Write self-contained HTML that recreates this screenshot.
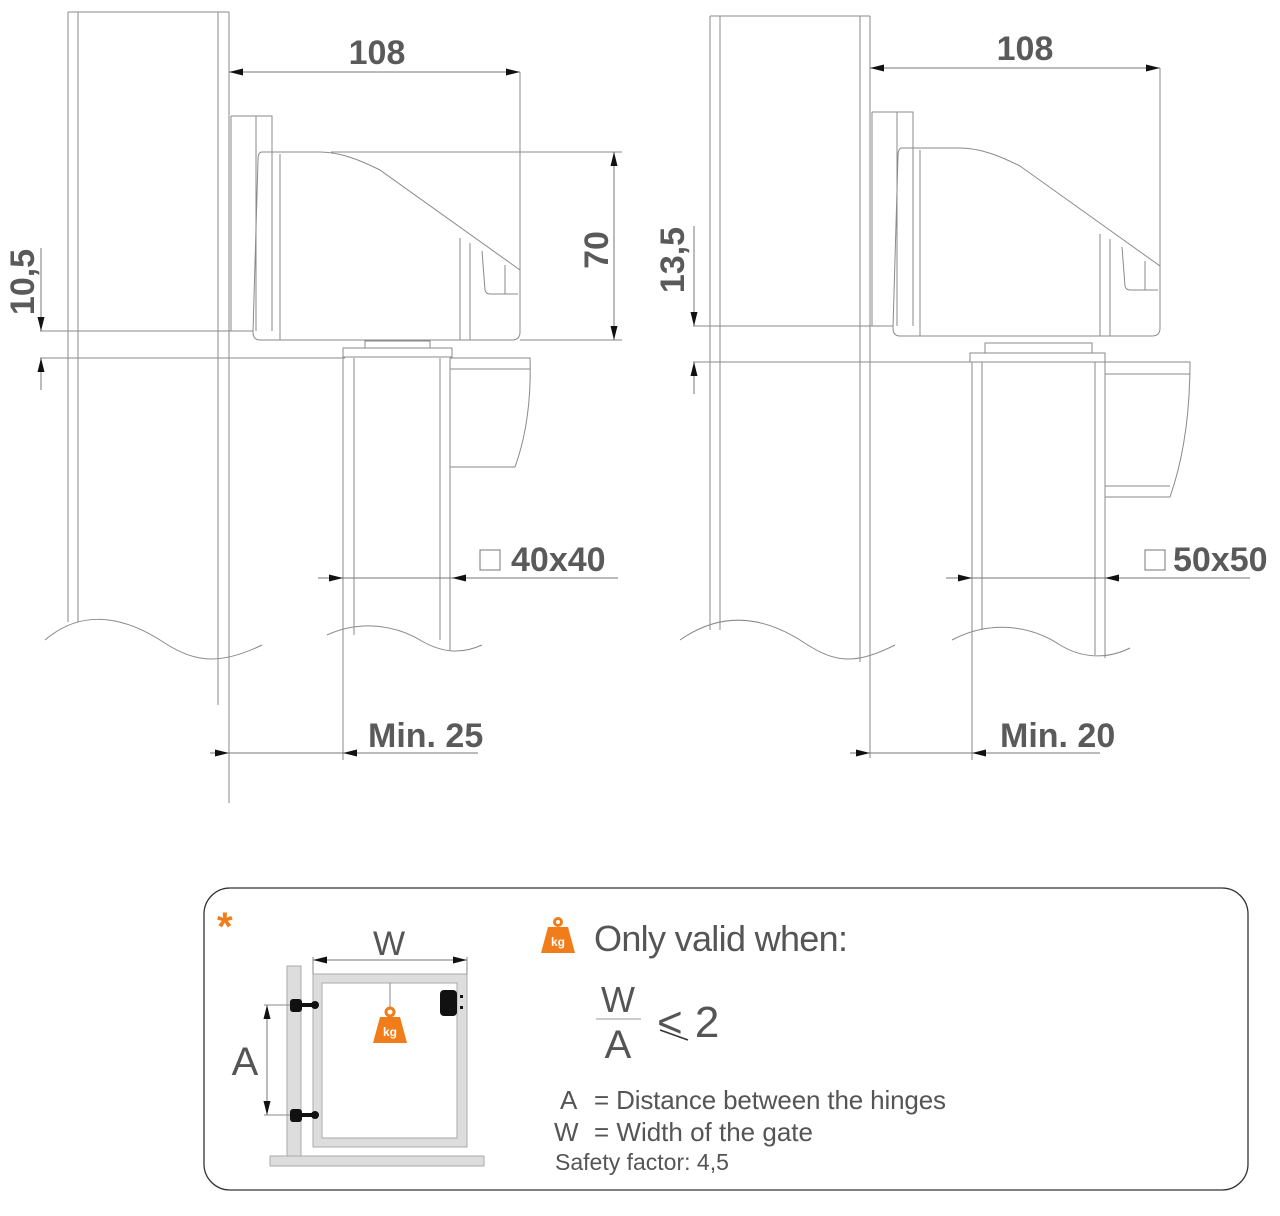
<!DOCTYPE html>
<html><head><meta charset="utf-8"><style>
html,body{margin:0;padding:0;background:#fff}
svg{display:block}
.l{stroke:#8a8a8a;stroke-width:1;fill:none}
.d{stroke:#777;stroke-width:1;fill:none}
.t{font-family:"Liberation Sans",sans-serif;font-weight:bold;fill:#5a5a5a}
.n{font-family:"Liberation Sans",sans-serif;fill:#555}
</style></head><body>
<svg width="1280" height="1216" viewBox="0 0 1280 1216" xmlns="http://www.w3.org/2000/svg">
<defs>
<marker id="a" viewBox="0 0 14 8" refX="14" refY="4" markerWidth="14" markerHeight="8" orient="auto-start-reverse" markerUnits="userSpaceOnUse"><path d="M0,0.5 L14,4 L0,7.5z" fill="#111"/></marker>
</defs>

<!-- LEFT DIAGRAM -->
<g>
<path class="l" d="M68,12 V622 M78,12 V622 M218,12 V705 M229,12 V803 M68,12 H229"/>
<path class="l" d="M45,640 C80,610 120,615 160,640 C190,660 215,668 262,645"/>
<path class="l" d="M40,331 H253 M40,358 H345"/>
<path class="l" d="M231,116 H272 V331 M231,116 V331 M256,116 V331"/>
<path class="l" d="M262,152 H320 C340,152 360,160 380,170 L520,270 V332 Q520,340 512,340 H260 Q253,340 253,332 L258,160 Q258,152 262,152Z"/>
<path class="l" d="M280,154 V340 M460,238 V340 M470,243 V340 M482,251 L485,290 Q486,294 490,294 H518 M505,265 V294"/>
<path class="l" d="M331,152 H622 M520,340 H622 M520,72 V300"/>
<path class="d" d="M229,72 H520" marker-start="url(#a)" marker-end="url(#a)"/>
<path class="d" d="M614,152 V340" marker-start="url(#a)" marker-end="url(#a)"/>
<text class="t" x="377" y="64" font-size="34" text-anchor="middle">108</text>
<text class="t" transform="translate(608,250) rotate(-90)" font-size="34" text-anchor="middle">70</text>
<text class="t" transform="translate(34,282) rotate(-90)" font-size="34" text-anchor="middle">10,5</text>
<path class="d" d="M41,248 V331" marker-end="url(#a)"/>
<path class="d" d="M41,390 V358" marker-end="url(#a)"/>
<path class="l" d="M343,348 H452 V357 H343Z M365,341 H430 V348 H365Z"/>
<path class="l" d="M343,358 V760 M354,358 V635 M440,358 V640 M450,358 V650"/>
<path class="l" d="M327,635 C360,620 395,625 420,640 C440,652 460,655 482,645"/>
<path class="l" d="M450,358 H530 Q532,420 515,467 H450 M450,369 H530"/>
<path class="d" d="M318,578 H343" marker-end="url(#a)"/>
<path class="d" d="M618,578 H452" marker-end="url(#a)"/>
<path class="d" d="M343,578 H452"/>
<rect x="480" y="550" width="20" height="20" fill="none" stroke="#777"/>
<text class="t" x="511" y="571" font-size="34">40x40</text>
<path class="d" d="M210,753 H229" marker-end="url(#a)"/>
<path class="d" d="M478,753 H343" marker-end="url(#a)"/>
<path class="d" d="M229,753 H343"/>
<text class="t" x="368" y="747" font-size="34">Min. 25</text>
</g>

<!-- RIGHT DIAGRAM -->
<g>
<path class="l" d="M710,16 V630 M720,16 V630 M860,16 V662 M870,16 V758 M710,16 H870"/>
<path class="l" d="M680,640 C720,612 760,615 800,640 C830,660 850,668 895,645"/>
<path class="l" d="M693,326 H893 M693,362 H972"/>
<path class="l" d="M872,112 H913 V326 M872,112 V326 M897,112 V326"/>
<path class="l" d="M902,148 H960 C980,148 1000,156 1020,166 L1160,266 V328 Q1160,336 1152,336 H900 Q893,336 893,328 L898,156 Q898,148 902,148Z"/>
<path class="l" d="M920,150 V336 M1100,234 V336 M1110,239 V336 M1122,247 L1125,286 Q1126,290 1130,290 H1158 M1145,261 V290"/>
<path class="l" d="M1160,68 V300"/>
<path class="d" d="M870,68 H1160" marker-start="url(#a)" marker-end="url(#a)"/>
<text class="t" x="1025" y="60" font-size="34" text-anchor="middle">108</text>
<text class="t" transform="translate(684,260) rotate(-90)" font-size="34" text-anchor="middle">13,5</text>
<path class="d" d="M694,226 V326" marker-end="url(#a)"/>
<path class="d" d="M694,394 V362" marker-end="url(#a)"/>
<path class="l" d="M985,343 H1092 V353 H985Z M970,353 H1105 V362 H970Z"/>
<path class="l" d="M972,362 V760 M982,362 V630 M1095,362 V655 M1105,362 V658"/>
<path class="l" d="M952,640 C990,620 1030,625 1060,645 C1085,660 1110,658 1130,648"/>
<path class="l" d="M1105,362 H1190 Q1190,440 1170,497 H1105 M1105,374 H1190 M1105,486 H1170"/>
<path class="d" d="M946,578 H972" marker-end="url(#a)"/>
<path class="d" d="M1250,578 H1105" marker-end="url(#a)"/>
<path class="d" d="M972,578 H1105"/>
<rect x="1145" y="550" width="20" height="20" fill="none" stroke="#777"/>
<text class="t" x="1173" y="571" font-size="34">50x50</text>
<path class="d" d="M850,753 H870" marker-end="url(#a)"/>
<path class="d" d="M1100,753 H972" marker-end="url(#a)"/>
<path class="d" d="M870,753 H972"/>
<text class="t" x="1000" y="747" font-size="34">Min. 20</text>
</g>

<!-- BOTTOM BOX -->
<rect x="204" y="888" width="1044" height="302" rx="26" fill="none" stroke="#333" stroke-width="1.3"/>
<text x="217" y="940" font-family="Liberation Sans,sans-serif" font-weight="bold" font-size="40" fill="#f07d1a">*</text>
<rect x="287" y="966" width="14" height="190" fill="#ddd" stroke="#aaa"/>
<rect x="270" y="1156" width="214" height="10" fill="#ddd" stroke="#aaa"/>
<path d="M313,974 H467 V1147 H313Z M322,983 V1138 H457 V983Z" fill="#ddd" fill-rule="evenodd" stroke="#aaa"/>
<path class="d" d="M313,960 H467" marker-start="url(#a)" marker-end="url(#a)"/>
<path class="l" d="M313,957 V974 M467,957 V974"/>
<text class="n" x="389" y="955" font-size="34" text-anchor="middle">W</text>
<path class="d" d="M267,1005 V1115" marker-start="url(#a)" marker-end="url(#a)"/>
<path class="l" d="M264,1005 H295 M264,1115 H295"/>
<text class="n" x="245" y="1075" font-size="40" text-anchor="middle">A</text>
<g fill="#111">
<rect x="290" y="999" width="12" height="13" rx="3"/><rect x="300" y="1003" width="16" height="4"/><circle cx="315" cy="1005" r="4"/>
<rect x="290" y="1109" width="12" height="13" rx="3"/><rect x="300" y="1113" width="16" height="4"/><circle cx="315" cy="1115" r="4"/>
<rect x="440" y="990" width="17" height="26" rx="4"/>
<rect x="460" y="995" width="3" height="3"/><rect x="460" y="1006" width="3" height="3"/>
</g>
<path class="l" d="M390,983 V1010"/>
<g fill="#f07d1a"><circle cx="390" cy="1012" r="4" fill="none" stroke="#f07d1a" stroke-width="3"/><path d="M380,1017 H400 L407,1043 H373Z"/></g>
<text x="390" y="1036" font-family="Liberation Sans,sans-serif" font-weight="bold" font-size="12" fill="#fff" text-anchor="middle">kg</text>
<g fill="#f07d1a"><circle cx="558" cy="922" r="3.5" fill="none" stroke="#f07d1a" stroke-width="3"/><path d="M548,927 H568 L575,953 H541Z"/></g>
<text x="558" y="946" font-family="Liberation Sans,sans-serif" font-weight="bold" font-size="12" fill="#fff" text-anchor="middle">kg</text>
<text class="n" x="594" y="951" font-size="36" fill="#666" textLength="254">Only valid when:</text>
<text class="n" x="618" y="1012" font-size="36" text-anchor="middle" fill="#333">W</text>
<path d="M596,1019 H641" stroke="#999"/>
<text class="n" x="618" y="1058" font-size="40" text-anchor="middle" fill="#333">A</text>
<text class="n" x="657" y="1037" font-size="44" fill="#333">&lt; 2</text>
<path d="M660,1030 L688,1040" stroke="#333" stroke-width="1.5"/>
<text class="n" x="560" y="1109" font-size="26">A</text>
<text class="n" x="594" y="1109" font-size="26" textLength="352">= Distance between the hinges</text>
<text class="n" x="554" y="1141" font-size="26">W</text>
<text class="n" x="594" y="1141" font-size="26">= Width of the gate</text>
<text class="n" x="555" y="1170" font-size="23" fill="#666">Safety factor: 4,5</text>
</svg>
</body></html>
